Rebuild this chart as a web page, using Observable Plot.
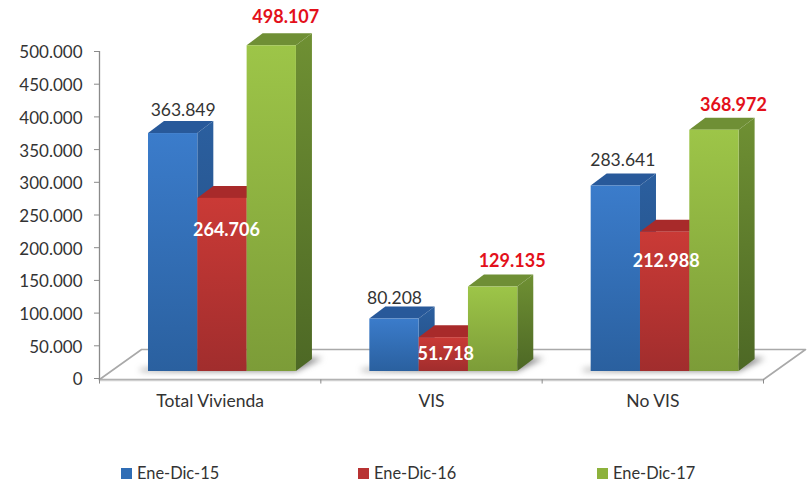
<!DOCTYPE html>
<html><head><meta charset="utf-8">
<script src="https://cdn.jsdelivr.net/npm/d3@7"></script>
<script src="https://cdn.jsdelivr.net/npm/@observablehq/plot@0.6"></script>
<style>
html,body{margin:0;padding:0;background:#fff;height:482px}
svg{display:block;background:#fff}
#legend{position:absolute;left:0;top:464.5px;width:809px;height:16px;font:16.4px/16px Lato,sans-serif;color:#333}
#legend span.i{position:absolute;top:0;line-height:16px;white-space:nowrap}
#legend i{display:inline-block;width:11px;height:11px;margin-right:5px;vertical-align:-0.5px}
</style></head><body>
<div id="chart"></div><div id="legend"></div>
<script>
const categories = ["Total Vivienda", "VIS", "No VIS"];
const seriesNames = ["Ene-Dic-15", "Ene-Dic-16", "Ene-Dic-17"];
const values15 = [363849, 80208, 283641];
const values16 = [264706, 51718, 212988];
const values17 = [498107, 129135, 368972];
const yTicks = d3.range(0, 500001, 50000);

const allValues = [values15, values16, values17];
const fmt = d => d3.format(",")(d).replaceAll(",", ".");
const look = [
  {front:"url(#gb)", side:"url(#sb)", top:"#28599a", swatch:"#2f6db5"},
  {front:"url(#gr)", side:"#8a2424", top:"#a82a2a", swatch:"#b83232"},
  {front:"url(#gg)", side:"url(#sg)", top:"#6f8f35", swatch:"#8db23c"}
];
// bar geometry in x-scale units (one category = 1) and 3D depth
const start = 0.2214, w = 0.2228, dX = 0.0723, dV = 18350, lift = -7;
// label nudges in px: [series][category]
const labelDx = [[10,0,7],[4,2,1],[14,19,19]];
const labelDy = [[-30,-27.5,-32.5],[25,10,22],[-36,-32.5,-32]];

const defs = () => {
  const d = d3.create("svg:defs");
  const g = (id, a, b) => {
    const l = d.append("linearGradient").attr("id", id).attr("x1",0).attr("x2",0).attr("y1",0).attr("y2",1);
    l.append("stop").attr("offset","0%").attr("stop-color",a);
    l.append("stop").attr("offset","100%").attr("stop-color",b);
  };
  g("gb","#3b7ccb","#2a609f"); g("gr","#ca3a36","#a12d2d"); g("gg","#9dc548","#7c9c38");
  g("sb","#2b5f9f","#234d80"); g("sg","#6f9033","#4d6825");
  return d.node();
};

const barMarks = [];
allValues.forEach((vals, s) => {
  const bars = vals.map((v, c) => ({v, x1: c + start + s * w, x2: c + start + (s + 1) * w, c}));
  const side = bars.flatMap(b => [
    {id:b.c, x:b.x2, y1:0, y2:b.v},
    {id:b.c, x:b.x2 + dX, y1:dV, y2:b.v + dV}]);
  const top = bars.flatMap(b => [
    {id:b.c, x:b.x1, y1:b.v, y2:b.v},
    {id:b.c, x:b.x1 + dX, y1:b.v, y2:b.v + dV},
    {id:b.c, x:b.x2, y1:b.v, y2:b.v + dV},
    {id:b.c, x:b.x2 + dX, y1:b.v + dV, y2:b.v + dV}]);
  barMarks.push(
    Plot.areaY(side, {x:"x", y1:"y1", y2:"y2", z:"id", fill:look[s].side, dy:lift}),
    Plot.areaY(top, {x:"x", y1:"y1", y2:"y2", z:"id", fill:look[s].top, dy:lift}),
    Plot.rect(bars, {x1:"x1", x2:"x2", y1:0, y2:"v", fill:look[s].front, dy:lift})
  );
});
const labelMarks = allValues.flatMap((vals, s) => vals.map((v, c) => Plot.text([v], {
  x: c + start + (s + 0.5) * w, y: d => d, text: fmt,
  dx: labelDx[s][c], dy: labelDy[s][c],
  fontFamily: "Lato", fontSize: s === 0 ? 17.5 : 18, fontWeight: s === 0 ? 400 : 700,
  fill: s === 0 ? "#333" : s === 1 ? "#fff" : "#e3101a"
})));
const shadows = categories.flatMap((_, c) => {
  const x1 = c + start, x2 = c + start + 3 * w;
  return [{id:c, x:x1 - 0.035, y1:0, y2:2500},
          {id:c, x:x2, y1:0, y2:20000},
          {id:c, x:x2 + 0.12, y1:20000, y2:20000}];
});

const chart = Plot.plot({
  width: 809, height: 460,
  marginLeft: 99, marginRight: 46, marginTop: 51, marginBottom: 82,
  style: {background:"#fff", overflow:"visible"},
  x: {type:"linear", domain:[0,3], range:[99,763], axis:null},
  y: {type:"linear", domain:[0,500000], range:[378,51], axis:null},
  marks: [
    defs,
    // floor
    Plot.areaY([{x:0,y1:-1500,y2:-1500},{x:0.19,y1:-1500,y2:44340},{x:3,y1:-1500,y2:44340},{x:3.19,y1:44340,y2:44340}],
      {x:"x", y1:"y1", y2:"y2", fill:"#fff"}),
    Plot.line([{x:0,y:-1500},{x:0.19,y:44340},{x:3.19,y:44340},{x:3,y:-1500},{x:0,y:-1500}],
      {x:"x", y:"y", stroke:"#a9a9a9", strokeWidth:1.6}),
    Plot.line([{x:0,y:-3000},{x:3,y:-3000}], {x:"x", y:"y", stroke:"#cfcfcf", strokeWidth:1.5}),
    // floor shadows
    Plot.areaY(shadows, {x:"x", y1:"y1", y2:"y2", z:"id", fill:"#555", fillOpacity:0.75, dy:lift, imageFilter:"blur(3px)"}),
    // axes
    Plot.ruleX([0], {y1:-3500, y2:500000, stroke:"#8a8a8a", strokeWidth:1.3}),
    Plot.ruleX([0,1,2,3], {y1:-8500, y2:-2000, stroke:"#8a8a8a", strokeWidth:1}),
    Plot.ruleY(yTicks, {x1:-0.0226, x2:0, stroke:"#8a8a8a", strokeWidth:1}),
    Plot.axisY({ticks:yTicks, tickFormat:d => d === 0 ? "0" : fmt(d), tickSize:0, tickPadding:17, dy:1.5,
      fill:"#333", fontSize:17, fontFamily:"Lato", label:null}),
    Plot.text(categories, {x:(d,i)=>i+0.5, y:0, text:d=>d, dy:23, fontFamily:"Lato", fontSize:17.5, fill:"#333"}),
    ...barMarks,
    ...labelMarks
  ]
});
document.getElementById("chart").append(chart);
const legend = document.getElementById("legend");
const lefts = [121, 358, 597];
seriesNames.forEach((n, i) => {
  const sp = document.createElement("span");
  sp.className = "i"; sp.style.left = lefts[i] + "px";
  sp.innerHTML = `<i style="background:${look[i].swatch}"></i>${n}`;
  legend.append(sp);
});
</script></body></html>
